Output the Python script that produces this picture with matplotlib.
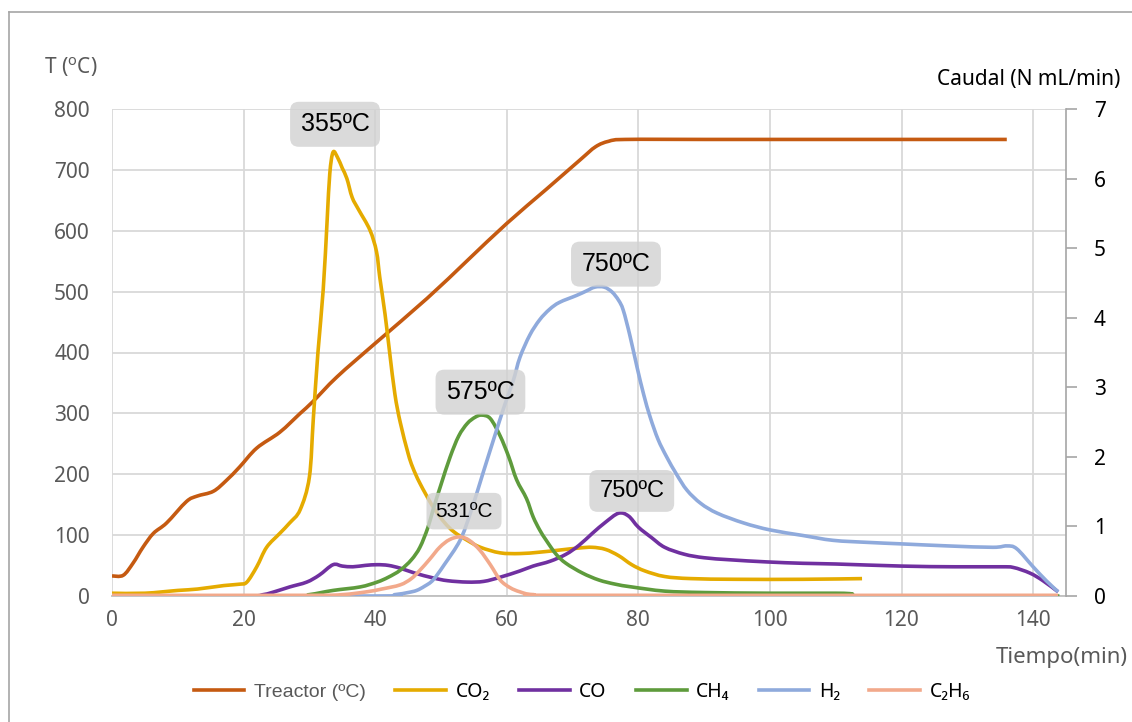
import matplotlib
matplotlib.use("Agg")
import matplotlib.pyplot as plt
import numpy as np
from matplotlib.lines import Line2D
from matplotlib.path import Path
from matplotlib.patches import PathPatch

plt.rcParams["font.family"] = ["Noto Sans", "DejaVu Sans"]
plt.rcParams["mathtext.fontset"] = "custom"
plt.rcParams["mathtext.rm"] = "Noto Sans"
# fuente con el indicador ordinal subrayado (ºC)
ORD_FONT = ["Liberation Sans", "DejaVu Sans"]

# Temperatura del reactor (eje izquierdo, ºC)
t_reactor = [0, 1.7, 3.2, 4.7, 6.3, 8.3, 11.3, 12.9, 15.4, 17.4, 19.4, 22, 25.5,
             28.6, 30.5, 34.2, 40, 47.9, 54, 60, 66, 71.1, 73.5, 75.5, 78, 90,
             136]
T_reactor = [33, 34, 54, 80, 103, 120, 155, 164, 172, 190, 212, 243, 269,
             300, 319, 360, 415, 489, 551, 612, 668, 716, 738, 747, 750, 750,
             750]

# Caudales (eje derecho, N mL/min)
t_co2 = [0, 5, 10, 13, 17, 19.4, 20.5, 22, 23.5, 25.5, 27, 28.6, 30, 30.6,
         31.3, 32.1, 32.7, 33.1, 33.6, 34.3, 35.0, 35.7, 36.5, 37.5, 39.2,
         40.2, 40.7, 41.5, 42.2, 43, 43.8, 45, 45.7, 46.8, 48.8, 50.5, 52, 54,
         56, 59, 62, 65, 68, 71, 73, 75, 77, 79, 81, 84, 88, 95, 105, 114]
co2 = [0.04, 0.04, 0.08, 0.10, 0.15, 0.17, 0.20, 0.42, 0.70, 0.90, 1.05, 1.24,
       1.71, 2.55, 3.5, 4.4, 5.4, 6.07, 6.38, 6.3, 6.15, 6.0, 5.73, 5.55, 5.26,
       4.95, 4.58, 4.05, 3.5, 2.9, 2.5, 2.05, 1.85, 1.62, 1.28, 1.06, 0.92, 0.80,
       0.70, 0.62, 0.61, 0.63, 0.66, 0.69, 0.70, 0.67, 0.58, 0.45, 0.36, 0.28,
       0.25, 0.24, 0.24, 0.25]

t_co = [0, 20, 23, 25, 27, 29.6, 31.5, 33.6, 35, 36.6, 38.5, 40.3, 42, 43.8,
        46, 48.8, 51, 54, 56.5, 59, 62, 64, 66.6, 69, 71, 73, 75, 77, 78.5, 80,
        82, 84, 87, 90, 94, 99.5, 105, 110, 120, 128, 135, 137, 139.5, 141.5,
        143.8]
co = [0, 0, 0.02, 0.07, 0.13, 0.20, 0.30, 0.45, 0.43, 0.42, 0.44, 0.45, 0.44,
      0.40, 0.33, 0.26, 0.22, 0.20, 0.21, 0.27, 0.36, 0.43, 0.50, 0.60, 0.73,
      0.90, 1.06, 1.19, 1.15, 0.99, 0.84, 0.70, 0.60, 0.55, 0.52, 0.49, 0.47,
      0.46, 0.43, 0.42, 0.42, 0.41, 0.33, 0.22, 0.06]

t_ch4 = [0, 27, 30, 33.6, 37.7, 40.3, 42, 43.8, 45.5, 46.8, 48, 48.8, 50, 51.4,
         52.7, 54, 55.2, 56.2, 57.5, 59, 60.3, 61.5, 63, 64, 65, 66, 67.5, 69,
         71.5, 74, 76.5, 79, 84, 90, 100, 110, 112.5, 114, 144]
ch4 = [0, 0, 0.02, 0.08, 0.13, 0.20, 0.27, 0.37, 0.52, 0.70, 0.98, 1.24, 1.60,
       2.00, 2.30, 2.48, 2.57, 2.60, 2.55, 2.30, 2.00, 1.67, 1.40, 1.14, 0.95,
       0.80, 0.60, 0.47, 0.33, 0.23, 0.17, 0.13, 0.07, 0.05, 0.04, 0.04, 0.03,
       0, 0]

t_h2 = [0, 40, 43, 45, 46.3, 47.5, 48.8, 50.5, 52.9, 54.5, 56.4, 58, 59.7, 61,
        62, 63.5, 65, 66.5, 68, 70.6, 72, 73.4, 74.8, 76, 77, 77.7, 78.7, 79.8,
        80.8, 81.8, 83, 84.3, 85.8, 87.4, 89.5, 92, 96, 100, 105, 109.6, 115,
        119.8, 127, 133.9, 136, 137.5, 140, 142, 143.8]
h2 = [0, 0, 0.02, 0.05, 0.08, 0.14, 0.23, 0.45, 0.80, 1.20, 1.77, 2.25, 2.75,
      3.10, 3.43, 3.75, 3.97, 4.12, 4.22, 4.32, 4.38, 4.44, 4.44, 4.37, 4.25,
      4.11, 3.75, 3.29, 2.90, 2.57, 2.25, 2.00, 1.75, 1.52, 1.33, 1.19, 1.05,
      0.95, 0.87, 0.80, 0.77, 0.75, 0.72, 0.70, 0.72, 0.68, 0.42, 0.22, 0.06]

t_c2h6 = [0, 30, 35, 38.7, 41, 43.8, 45.5, 46.8, 48.3, 49.8, 51.3, 52.9, 54.3,
          55.9, 57.5, 59, 60.5, 62, 64, 70, 143.8]
c2h6 = [0.01, 0.01, 0.02, 0.06, 0.10, 0.16, 0.25, 0.37, 0.53, 0.70, 0.81, 0.85,
        0.80, 0.66, 0.45, 0.23, 0.12, 0.06, 0.02, 0.01, 0.01]

# etiquetas de temperatura en los máximos: (texto, x, caudal, tamaño)
peak_labels = [("355ºC", 33.9, 6.78, 18),
               ("750ºC", 76.6, 4.77, 18),
               ("575ºC", 56.0, 2.93, 18),
               ("750ºC", 79.0, 1.51, 17),
               ("531ºC", 53.5, 1.22, 15)]

C_T = "#C55A11"
C_CO2 = "#E5AB00"
C_CO = "#7030A0"
C_CH4 = "#5E9B3C"
C_H2 = "#8FAADC"
C_C2H6 = "#F2A98B"
GRAY = "#595959"
LW = 2.6


def smooth_line(ax, x, y, color):
    """Línea suavizada (Catmull-Rom -> Bézier) por los puntos medidos."""
    p = np.column_stack([x, y]).astype(float)
    n = len(p)
    verts, codes = [p[0]], [Path.MOVETO]
    for i in range(n - 1):
        p0, p1 = p[max(i - 1, 0)], p[i]
        p2, p3 = p[i + 1], p[min(i + 2, n - 1)]
        verts += [p1 + (p2 - p0) / 6, p2 - (p3 - p1) / 6, p2]
        codes += [Path.CURVE4] * 3
    ax.add_patch(PathPatch(Path(verts, codes), fill=False, ec=color, lw=LW,
                           capstyle="butt", joinstyle="round"))


W, H = 1132, 722
fig = plt.figure(figsize=(W / 100, H / 100), dpi=100)
ax = fig.add_axes([112 / W, 1 - 596 / H, (1066 - 112) / W, (596 - 109) / H])
ax2 = ax.twinx()

ax.set_xlim(0, 145)
ax.set_ylim(0, 800)
ax2.set_ylim(0, 7)
ax.set_xticks(range(0, 141, 20))
ax.set_yticks(range(0, 801, 100))
ax2.set_yticks(range(0, 8))

ax.grid(True, color="#d9d9d9", lw=1.3, zorder=0)
ax.set_axisbelow(True)
for s in ("top", "left", "right"):
    ax.spines[s].set_visible(False)
ax.spines["bottom"].set_color("#bfbfbf")
ax.spines["bottom"].set_linewidth(1.3)
for s in ("top", "left", "bottom"):
    ax2.spines[s].set_visible(False)
ax2.spines["right"].set_color("#a6a6a6")
ax2.spines["right"].set_linewidth(1.2)

ax.tick_params(axis="y", length=0, pad=16, labelsize=15, labelcolor=GRAY)
ax.tick_params(axis="x", length=0, pad=10, labelsize=15, labelcolor=GRAY)
ax2.tick_params(axis="y", length=8, width=1.2, color="#a6a6a6", pad=12,
                labelsize=15, labelcolor="black")

smooth_line(ax, t_reactor, T_reactor, C_T)
series = [(t_co2, co2, C_CO2), (t_co, co, C_CO), (t_ch4, ch4, C_CH4),
          (t_h2, h2, C_H2), (t_c2h6, c2h6, C_C2H6)]
for t, v, c in series:
    smooth_line(ax2, t, v, c)

for txt, x, y, fs in peak_labels:
    ax2.text(x, y, txt, ha="center", va="center", fontsize=fs, color="black",
             family=ORD_FONT, zorder=10,
             bbox=dict(boxstyle="round,pad=0.42,rounding_size=0.35",
                       fc="#d2d2d2", ec="none", alpha=0.82))

# títulos de los ejes
fig.text(44 / W, 1 - 67 / H, r"T ($^{\mathrm{o}}$C)", ha="left", va="center",
         fontsize=15, color=GRAY)
fig.text(1120 / W, 1 - 80 / H, "Caudal (N mL/min)", ha="right", va="center",
         fontsize=15, color="black")
fig.text(1128 / W, 1 - 658 / H, "Tiempo(min)", ha="right", va="center",
         fontsize=16, color=GRAY)

# leyenda inferior
names = ["Treactor (ºC)", "CO₂", "CO", "CH₄", "H₂", "C₂H₆"]
colors = [C_T, C_CO2, C_CO, C_CH4, C_H2, C_C2H6]
handles = [Line2D([], [], color=c, lw=LW) for c in colors]
leg = fig.legend(handles, names, loc="center",
                 bbox_to_anchor=(582 / W, 1 - 692 / H), ncol=6, frameon=False,
                 fontsize=14, handlelength=2.6, handletextpad=0.5,
                 columnspacing=1.5)
leg.get_texts()[0].set_color(GRAY)
leg.get_texts()[0].set_family(ORD_FONT)

# marco del gráfico
fc = "#a6a6a6"
fig.add_artist(Line2D([8.5 / W, 8.5 / W], [0, 1 - 12 / H], color=fc, lw=1.2,
                      transform=fig.transFigure))
fig.add_artist(Line2D([8.5 / W, 1], [1 - 12 / H, 1 - 12 / H], color=fc,
                      lw=1.2, transform=fig.transFigure))

fig.savefig("out.png", dpi=100, facecolor="white")
